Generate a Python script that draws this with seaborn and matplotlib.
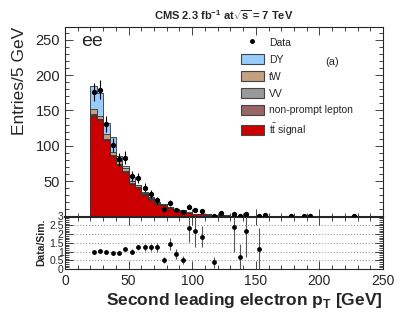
import numpy as np
import pandas as pd
import matplotlib
matplotlib.use("Agg")
import matplotlib.pyplot as plt
import seaborn as sns
from matplotlib.patches import Patch
from matplotlib.lines import Line2D

# bins: 5 GeV from 20 to 250 GeV
edges = np.arange(20, 255, 5)
centers = edges[:-1] + 2.5

signal = [142, 136, 108, 85, 73, 63, 46, 41, 31, 24,
          18, 16, 12, 9.5, 8, 5, 3.6, 3.5, 2.8, 2.1,
          1.7, 1.4, 1.0, 1.1, 1.0, 0.8, 0.65, 0.55, 0.5, 0.4,
          0.35, 0.3, 0.27, 0.24, 0.2, 0.18, 0.15, 0.13, 0.12, 0.1,
          0.09, 0.08, 0.07, 0.06, 0.05, 0.05]
nonprompt = [1.5, 1.2, 1.0, 0.8, 0.7, 0.6, 0.5, 0.4, 0.3, 0.25,
             0.2, 0.2, 0.15, 0.1, 0.1, 0.1, 0.05, 0.05, 0.05, 0.05,
             0.04, 0.03, 0.03, 0.02, 0.02, 0.02, 0.01, 0.01, 0.01, 0.01,
             0, 0, 0, 0, 0, 0, 0, 0, 0, 0,
             0, 0, 0, 0, 0, 0]
vv = [1.2, 1.0, 0.9, 0.7, 0.6, 0.5, 0.4, 0.35, 0.3, 0.25,
      0.2, 0.18, 0.15, 0.12, 0.1, 0.1, 0.08, 0.07, 0.06, 0.05,
      0.05, 0.04, 0.04, 0.03, 0.03, 0.03, 0.02, 0.02, 0.02, 0.02,
      0.01, 0.01, 0.01, 0.01, 0.01, 0.01, 0.01, 0.01, 0.01, 0.01,
      0.01, 0.01, 0.01, 0.01, 0.01, 0.01]
tw = [7.3, 3.8, 7.1, 4.5, 4.7, 3.9, 2.6, 2.3, 1.8, 1.5,
      1.1, 0.9, 0.7, 0.5, 0.4, 0.3, 0.25, 0.2, 0.2, 0.15,
      0.12, 0.1, 0.08, 0.06, 0.05, 0.05, 0.04, 0.04, 0.03, 0.03,
      0.02, 0.02, 0.02, 0.02, 0.02, 0.02, 0.02, 0.02, 0.02, 0.02,
      0.01, 0.01, 0.01, 0.01, 0.01, 0.01]
dy = [32, 32, 15, 21, 7, 4, 6.5, 1.0, 1.6, 1.0,
      0.5, 0.7, 0.8, 0.6, 1.0, 0.3, 0.2, 0.3, 0.2, 0.1,
      0.1, 0.1, 0.05, 0.05, 0.05, 0.05, 0.03, 0.03, 0.03, 0.03,
      0, 0, 0, 0, 0, 0, 0, 0, 0, 0,
      0, 0, 0, 0, 0, 0]

data = [176, 179, 131, 101, 81, 83, 57, 54, 41, 32,
        23, 10, 19, 9, 6, 14, 9, 8, 0, 1,
        5, 0, 3, 1, 3, 0, 1, 2, 0, 0,
        0, 1, 0, 1, 1, 0, 0, 0, 0, 0,
        0, 1, 0, 0, 0, 0]
data_err = [13.3, 13.4, 11.4, 10, 9, 9.1, 7.5, 7.3, 6.4, 5.7,
            4.8, 3.2, 4.4, 3, 2.4, 3.7, 3, 2.8, 0, 1,
            2.2, 0, 1.7, 1, 1.7, 0, 1, 1.4, 0, 0,
            0, 1, 0, 1, 1, 0, 0, 0, 0, 0,
            0, 1, 0, 0, 0, 0]

nan = np.nan
ratio = [0.96, 1.04, 0.96, 0.90, 0.94, 1.15, 1.0, 1.23, 1.25, 1.23,
         1.23, 0.5, 1.42, 0.85, 0.52, 2.33, 2.15, 1.83, nan, 0.38,
         nan, nan, 2.4, 0.71, 2.17, nan, 1.17] + [nan] * 19
ratio_err = [0.08, 0.08, 0.09, 0.1, 0.11, 0.13, 0.14, 0.17, 0.2, 0.22,
             0.26, 0.16, 0.33, 0.28, 0.22, 0.8, 0.9, 0.6, nan, 0.3,
             nan, nan, 1.4, 0.7, 1.5, nan, 1.2] + [nan] * 19

mc_unc = 0.05  # relative uncertainty shown as hatched band

colors = {"DY": "#99ccff", "tW": "#c4a07f", "VV": "#999999",
          "non-prompt lepton": "#996666", "signal": "#cc0000"}

sns.set_style("ticks")
plt.rcParams["font.family"] = ["Liberation Sans", "DejaVu Sans"]
plt.rcParams["mathtext.fontset"] = "custom"
plt.rcParams["mathtext.rm"] = "Liberation Sans"
plt.rcParams["mathtext.bf"] = "Liberation Sans:bold"
plt.rcParams["hatch.color"] = "#aaaaaa"
plt.rcParams["hatch.linewidth"] = 0.6
for a in ["xtick", "ytick"]:
    plt.rcParams[a + ".direction"] = "in"
    plt.rcParams[a + ".major.width"] = 0.6
    plt.rcParams[a + ".minor.width"] = 0.6
plt.rcParams["xtick.top"] = True
plt.rcParams["ytick.right"] = True

W, H = 407, 328
fig = plt.figure(figsize=(W / 100, H / 100), dpi=100)
ax = fig.add_axes([65 / W, 1 - 216.5 / H, 318 / W, (216.5 - 27) / H])
rax = fig.add_axes([65 / W, 1 - 269 / H, 318 / W, (269 - 216.5) / H], sharex=ax)

# stacked histogram: draw cumulative layers from top to bottom
layers = [np.array(signal), np.array(nonprompt), np.array(vv), np.array(tw), np.array(dy)]
layer_cols = [colors["signal"], colors["non-prompt lepton"], colors["VV"], colors["tW"], colors["DY"]]
cum = np.cumsum(layers, axis=0)
for i in range(len(layers) - 1, -1, -1):
    df = pd.DataFrame({"pt": centers, "w": cum[i]})
    sns.histplot(data=df, x="pt", weights="w", bins=list(edges), element="step", fill=True,
                 color=layer_cols[i], alpha=1, edgecolor="#333333", linewidth=0.6, ax=ax)
total = cum[-1]
ax.stairs(total * (1 + mc_unc), edges, baseline=total * (1 - mc_unc),
          fill=False, hatch="////", edgecolor="none", linewidth=0)

d = np.array(data, dtype=float)
de = np.array(data_err)
m = d > 0
ax.errorbar(centers[m], d[m], yerr=de[m], fmt="o", color="black", ms=2.8,
            elinewidth=0.8, capsize=0, zorder=5)

ax.set_xlim(0, 250)
ax.set_ylim(0, 268)
ax.set_ylabel("Entries/5 GeV", fontsize=12.5, loc="top", labelpad=6)
ax.set_xlabel("")
ax.set_yticks([50, 100, 150, 200, 250])
ax.yaxis.set_minor_locator(plt.MultipleLocator(10))
ax.xaxis.set_major_locator(plt.MultipleLocator(50))
ax.xaxis.set_minor_locator(plt.MultipleLocator(10))
ax.tick_params(axis="x", labelbottom=False)
ax.tick_params(axis="y", labelsize=10.5)
ax.tick_params(which="major", length=6)
ax.tick_params(which="minor", length=3)
ax.spines["bottom"].set_linewidth(1.5)

ax.set_title(r"CMS 2.3 fb$^{\mathbf{-1}}$ at$\sqrt{\mathbf{s}}$ = 7 TeV", fontsize=8,
             fontweight="bold", pad=5)
ax.text(0.05, 0.925, "ee", transform=ax.transAxes, fontsize=14, va="center")
ax.text(325 / W, 1 - 62 / H, "(a)", transform=fig.transFigure, fontsize=8, va="center")

handles = [Line2D([], [], marker="o", color="black", ls="none", ms=2.5),
           Patch(facecolor=colors["DY"], edgecolor="#444444", lw=0.8),
           Patch(facecolor=colors["tW"], edgecolor="#444444", lw=0.8),
           Patch(facecolor=colors["VV"], edgecolor="#444444", lw=0.8),
           Patch(facecolor=colors["non-prompt lepton"], edgecolor="#444444", lw=0.8),
           Patch(facecolor=colors["signal"], edgecolor="#444444", lw=0.8)]
labels = ["Data", "DY", "tW", "VV", "non-prompt lepton", r"t$\bar{\mathregular{t}}$ signal"]
fig.legend(handles, labels, loc="upper left", bbox_to_anchor=(241 / W, 1 - 37 / H),
           frameon=False, fontsize=7.5, handlelength=2.2, handleheight=1.15,
           labelspacing=0.6, handletextpad=0.5, borderpad=0, borderaxespad=0)

# ratio panel
for yv in [0.5, 1, 1.5, 2, 2.5]:
    rax.axhline(yv, color="#999999", ls=":", lw=0.8, zorder=0)
r = np.array(ratio)
re = np.array(ratio_err)
rm = ~np.isnan(r)
rax.errorbar(centers[rm], r[rm], yerr=re[rm], fmt="none", ecolor="#555555",
             elinewidth=0.8, capsize=0, zorder=3)
sns.scatterplot(x=centers[rm], y=r[rm], color="black", s=12, linewidth=0, ax=rax, zorder=4)
rax.set_ylim(0, 3)
rax.set_xlim(0, 250)
rax.set_yticks([0, 0.5, 1, 1.5, 2, 2.5, 3])
rax.set_yticklabels(["0", "0.5", "1", "1.5", "2", "2.5", "3"])
rax.yaxis.set_minor_locator(plt.MultipleLocator(0.1))
rax.tick_params(axis="y", labelsize=7.5, pad=1)
rax.tick_params(axis="x", labelsize=10)
rax.tick_params(which="major", length=6)
rax.tick_params(which="minor", length=3)
rax.set_ylabel("Data/Sim.", fontsize=7.5, fontweight="bold", labelpad=2)
rax.set_xlabel(r"Second leading electron p$_{\mathbf{T}}$ [GeV]", fontsize=12.5,
               fontweight="bold", loc="right", labelpad=2)

fig.savefig("out.png", dpi=100)
